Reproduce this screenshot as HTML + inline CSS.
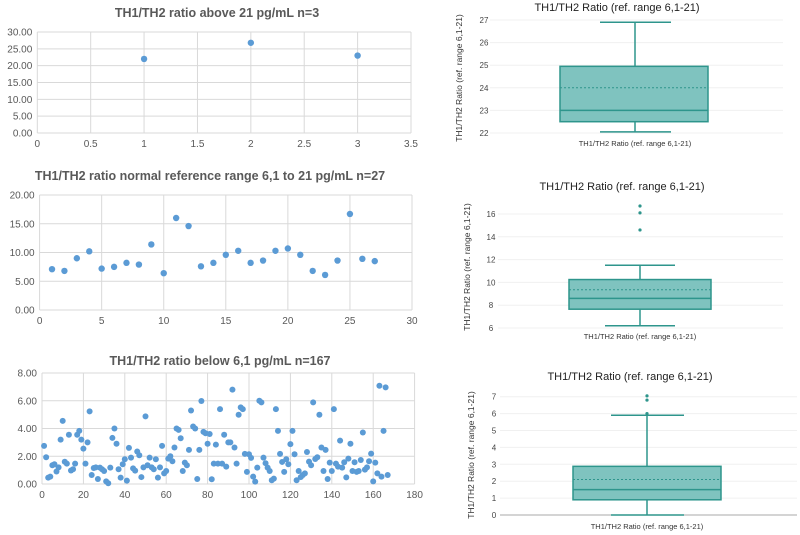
<!DOCTYPE html>
<html><head><meta charset="utf-8"><style>
html,body{margin:0;padding:0;background:#fff;width:800px;height:535px;overflow:hidden}
svg{display:block}
text{font-family:"Liberation Sans",Arial,sans-serif}
</style></head><body>
<svg id="c" width="800" height="535"></svg>
<script>
// ---- data ----
const aboveX=[1,2,3];
const aboveY=[22.0,26.8,23.0];
const aboveXTicks=["0","0.5","1","1.5","2","2.5","3","3.5"];
const aboveYTicks=["0.00","5.00","10.00","15.00","20.00","25.00","30.00"];
const normalY=[7.1,6.8,9.0,10.2,7.2,7.5,8.2,7.9,11.4,6.4,16.0,14.6,7.6,8.2,9.6,10.3,8.2,8.6,10.3,10.7,9.6,6.8,6.1,8.6,16.7,8.9,8.5];
const normalXTicks=["0","5","10","15","20","25","30"];
const normalYTicks=["0.00","5.00","10.00","15.00","20.00"];
const belowY=[2.75,1.93,0.46,0.53,1.35,1.42,0.9,1.2,3.2,4.55,1.6,1.47,3.55,0.97,1.06,1.47,3.55,3.83,3.2,2.55,1.47,3.0,5.23,0.65,1.15,1.2,0.36,1.18,1.06,0.94,0.19,0.05,1.18,3.32,4.0,2.9,1.06,0.46,1.42,1.78,0.24,2.6,1.9,1.13,0.96,2.34,2.07,0.5,1.2,4.87,1.35,1.9,1.2,1.06,1.78,0.46,1.2,2.75,0.77,0.94,1.83,2.0,1.64,2.63,4.0,3.9,3.3,0.94,1.54,1.35,2.46,5.3,4.14,4.0,0.36,2.46,5.98,3.76,3.66,2.9,3.6,0.34,1.47,2.84,1.47,5.4,1.47,3.55,1.25,3.0,3.0,6.8,2.63,1.47,4.99,5.52,5.4,2.17,0.87,2.14,1.88,0.53,0.17,1.18,6.0,5.88,1.9,1.5,1.18,0.94,0.27,0.39,5.4,3.83,2.17,1.59,0.87,1.78,1.42,2.87,3.83,2.14,0.27,0.94,0.5,0.65,0.77,2.31,1.61,1.35,5.88,1.8,1.93,4.99,2.63,0.94,2.46,0.36,1.54,0.94,5.4,1.47,1.25,3.13,1.18,1.57,0.48,1.83,2.9,0.94,1.57,0.87,0.94,1.73,3.71,1.04,1.2,1.64,2.19,0.19,1.54,0.77,7.08,0.53,3.83,6.96,0.65];
const belowXTicks=["0","20","40","60","80","100","120","140","160","180"];
const belowYTicks=["0.00","2.00","4.00","6.00","8.00"];
// box stats: [min, q1, median, mean, q3, max]
const box1=[22.05,22.5,23.0,24.0,24.95,26.9];
const box1Out=[];
const box1Ticks=[22,23,24,25,26,27];
const box2=[6.2,7.65,8.6,9.35,10.25,11.5];
const box2Out=[14.6,16.1,16.7];
const box2Ticks=[6,8,10,12,14,16];
const box3=[0,0.9,1.5,2.1,2.88,5.9];
const box3Out=[6.0,6.8,7.05];
const box3Ticks=[0,1,2,3,4,5,6,7];

const svg=document.getElementById('c');
const NS="http://www.w3.org/2000/svg";
function mk(tag,attrs,parent){const e=document.createElementNS(NS,tag);for(const k in attrs)e.setAttribute(k,attrs[k]);(parent||svg).appendChild(e);return e;}
function txt(s,attrs,parent){const t=mk('text',attrs,parent);t.textContent=s;return t;}

function scatter(cfg,xs,ys,xt,yt){
  const g=mk('g',{});
  
  
  const sx=v=>cfg.x0+(v-cfg.xmin)/(cfg.xmax-cfg.xmin)*(cfg.x1-cfg.x0);
  const sy=v=>cfg.y0-(v-cfg.ymin)/(cfg.ymax-cfg.ymin)*(cfg.y0-cfg.y1);
  const t=txt(cfg.title,{x:cfg.tx,y:cfg.ty,'text-anchor':'middle','font-size':12.5,'font-weight':'bold',fill:'#595959'},g);
  
  
  yt.forEach(s=>{const v=parseFloat(s);const y=sy(v);
    mk('line',{x1:cfg.x0,x2:cfg.x1,y1:y,y2:y,stroke:'#d9d9d9','stroke-width':1},g);
    const l=txt(s,{x:cfg.x0-5,y:y+3.5,'text-anchor':'end','font-size':10,fill:'#595959'},g);
    
    });
  xt.forEach(s=>{const v=parseFloat(s);const x=sx(v);
    mk('line',{x1:x,x2:x,y1:cfg.y1,y2:cfg.y0,stroke:'#d9d9d9','stroke-width':1},g);
    const l=txt(s,{x:x,y:cfg.y0+14,'text-anchor':'middle','font-size':10,fill:'#595959'},g);
    
    });
  ys.forEach((v,i)=>{const c=mk('circle',{cx:sx(xs?xs[i]:i+1),cy:sy(v),r:cfg.r,fill:'#5b9bd5'},g);
    
    });
}
scatter({name:'scatter-above-21',title:'TH1/TH2 ratio above 21 pg/mL n=3',tx:217,ty:17,x0:37.3,x1:411,xmin:0,xmax:3.5,y0:133,y1:32,ymin:0,ymax:30,r:3.2},aboveX,aboveY,aboveXTicks,aboveYTicks);
scatter({name:'scatter-normal-range',title:'TH1/TH2 ratio normal reference range 6,1 to 21 pg/mL n=27',tx:210,ty:180,x0:39.6,x1:412,xmin:0,xmax:30,y0:310,y1:195,ymin:0,ymax:20,r:3.2},null,normalY,normalXTicks,normalYTicks);
scatter({name:'scatter-below-6-1',title:'TH1/TH2 ratio below 6,1 pg/mL n=167',tx:220,ty:365,x0:42,x1:414.6,xmin:0,xmax:180,y0:484,y1:373,ymin:0,ymax:8,r:3},null,belowY,belowXTicks,belowYTicks);

function boxplot(cfg,st,outs,ticks){
  const g=mk('g',{});
  
  
  const sy=v=>cfg.yb-(v-cfg.vb)*cfg.ppu;
  const t=txt('TH1/TH2 Ratio (ref. range 6,1-21)',{x:cfg.tx,y:cfg.ty,'text-anchor':'middle','font-size':11,fill:'#222'},g);
  
  
  ticks.forEach(v=>{const y=sy(v);
    mk('line',{x1:cfg.gx0,x2:cfg.gx1,y1:y,y2:y,stroke:(cfg.base&&v===0)?'#aaa':'#f0f0f0','stroke-width':1},g);
    const l=txt(String(v),{x:cfg.lx,y:y+3,'text-anchor':'middle','font-size':8,fill:'#444'},g);
    
    });
  const yt=txt('TH1/TH2 Ratio (ref. range 6,1-21)',{x:0,y:0,'text-anchor':'middle','font-size':8.5,fill:'#333',transform:`translate(${cfg.ytx},${cfg.yty}) rotate(-90)`},g);
  
  
  const xl=txt('TH1/TH2 Ratio (ref. range 6,1-21)',{x:cfg.cx,y:cfg.xly,'text-anchor':'middle','font-size':7.5,fill:'#333'},g);
  
  
  const col='#2e958c';
  const [mn,q1,md,mean,q3,mx]=st;
  mk('line',{x1:cfg.cx,x2:cfg.cx,y1:sy(mn),y2:sy(q1),stroke:col,'stroke-width':1.5},g);
  mk('line',{x1:cfg.cx,x2:cfg.cx,y1:sy(q3),y2:sy(mx),stroke:col,'stroke-width':1.5},g);
  mk('line',{x1:cfg.cap0,x2:cfg.cap1,y1:sy(mn),y2:sy(mn),stroke:col,'stroke-width':1.5},g);
  mk('line',{x1:cfg.cap0,x2:cfg.cap1,y1:sy(mx),y2:sy(mx),stroke:col,'stroke-width':1.5},g);
  const r=mk('rect',{x:cfg.bx0,y:sy(q3),width:cfg.bx1-cfg.bx0,height:sy(q1)-sy(q3),fill:'#7fc3bf',stroke:col,'stroke-width':1.5},g);
  
  
  mk('line',{x1:cfg.bx0,x2:cfg.bx1,y1:sy(md),y2:sy(md),stroke:col,'stroke-width':1.5},g);
  mk('line',{x1:cfg.bx0,x2:cfg.bx1,y1:sy(mean),y2:sy(mean),stroke:col,'stroke-width':1,'stroke-dasharray':'2,2'},g);
  outs.forEach(v=>{const c=mk('circle',{cx:cfg.cx,cy:sy(v),r:1.6,fill:col},g);
    
    });
}
boxplot({name:'boxplot-above',tx:617,ty:11,vb:22,yb:133,ppu:22.6,lx:484,gx0:490,gx1:783,bx0:560,bx1:708,cap0:600,cap1:671,cx:635,xly:146,ytx:462,yty:78},box1,box1Out,box1Ticks);
boxplot({name:'boxplot-normal',tx:622,ty:190,vb:6,yb:328,ppu:11.4,lx:491,gx0:498,gx1:783,bx0:569,bx1:711,cap0:605,cap1:675,cx:640,xly:339,ytx:470,yty:267},box2,box2Out,box2Ticks);
boxplot({name:'boxplot-below',tx:630,ty:380,vb:0,yb:515,ppu:16.9,lx:494,gx0:500,gx1:797,bx0:573,bx1:721,cap0:611,cap1:684,cx:647,xly:529,ytx:474,yty:455,base:true},box3,box3Out,box3Ticks);
</script>
</body></html>
